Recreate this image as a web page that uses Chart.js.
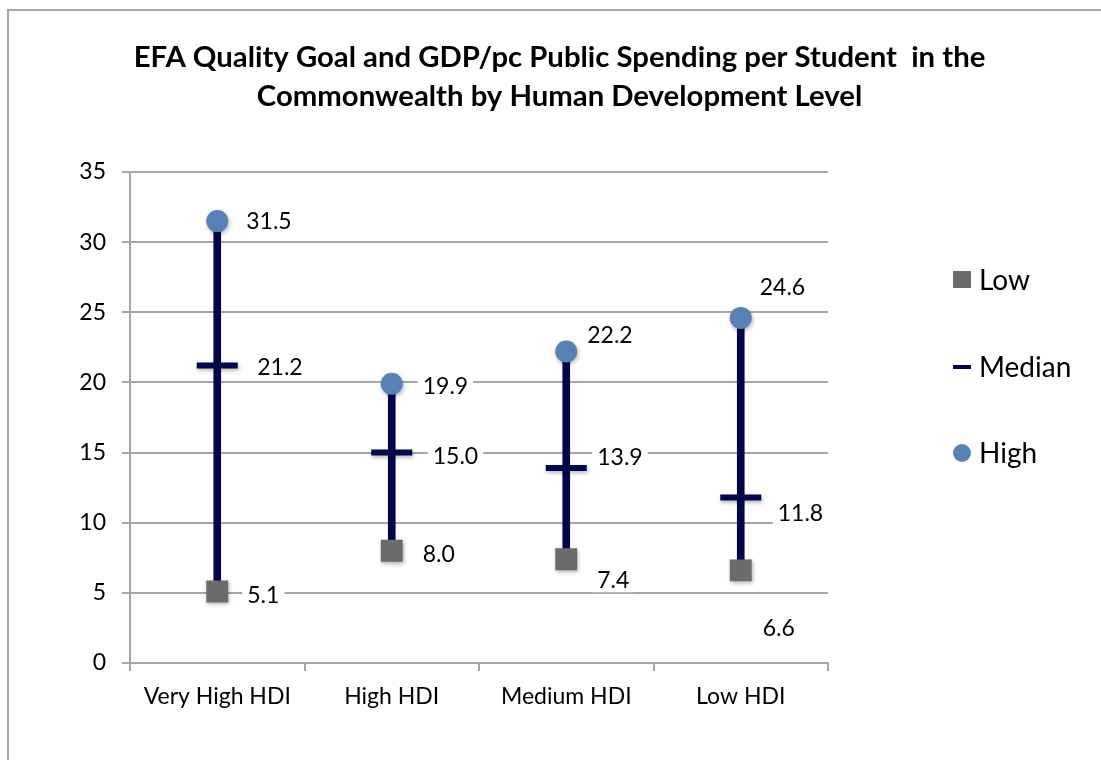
<!DOCTYPE html>
<html>
<head>
<meta charset="utf-8">
<script src="https://cdn.jsdelivr.net/npm/chart.js@4/dist/chart.umd.min.js"></script>
<style>
  html, body { margin: 0; padding: 0; background: #fff; overflow: hidden; }
  #wrap { position: relative; width: 1101px; height: 760px; }
  #frame {
    position: absolute; left: 7px; top: 9px; width: 1200px; height: 900px;
    border-left: 2px solid #a6a6a6; border-top: 2px solid #a6a6a6;
  }
  canvas { position: absolute; left: 0; top: 0; }
</style>
</head>
<body>
<div id="wrap">
  <div id="frame"></div>
  <canvas id="chart" width="1101" height="760"></canvas>
</div>
<script>
// chart data
const categories = ["Very High HDI", "High HDI", "Medium HDI", "Low HDI"];
const lowValues = [5.1, 8.0, 7.4, 6.6];
const medianValues = [21.2, 15.0, 13.9, 11.8];
const highValues = [31.5, 19.9, 22.2, 24.6];
const yTicks = [0, 5, 10, 15, 20, 25, 30, 35];

const titleLines = [
  "EFA Quality Goal and GDP/pc Public Spending per Student  in the",
  "Commonwealth by Human Development Level"
];

const FONT = "Lato, 'Open Sans', sans-serif";
const NAVY = "#03064a";
const GRID = "#a6a6a6";

// label offsets from each point (text left, text middle), in px
const labelOffsets = {
  Low: [[30, 4], [31, 4], [31, 21], [22, 58]],
  Median: [[40, 2], [41, 4], [31, -10], [37, 16]],
  High: [[29, 0], [31, 3], [21, -16], [19, -30]]
};

// white-boxed value labels, Excel style
const valueLabels = {
  id: "valueLabels",
  afterDatasetsDraw(chart) {
    const ctx = chart.ctx;
    ctx.save();
    ctx.font = "23px " + FONT;
    ctx.textBaseline = "middle";
    ctx.textAlign = "left";
    chart.data.datasets.forEach((ds, i) => {
      const offs = labelOffsets[ds.label];
      if (!offs) return;
      chart.getDatasetMeta(i).data.forEach((pt, j) => {
        const txt = ds.data[j].toFixed(1);
        const x = pt.x + offs[j][0];
        const y = pt.y + offs[j][1];
        const w = ctx.measureText(txt).width;
        ctx.fillStyle = "#fff";
        ctx.fillRect(x - 5, y - 13, w + 10, 25);
        ctx.fillStyle = "#000";
        ctx.fillText(txt, x, y);
      });
    });
    ctx.restore();
  }
};

// soft drop shadow under the markers
const markerShadow = {
  id: "markerShadow",
  beforeDatasetDraw(chart, args) {
    if (args.meta.type !== "line") return;
    const ctx = chart.ctx;
    ctx.save();
    ctx.shadowColor = "rgba(0,0,0,0.3)";
    ctx.shadowBlur = 4;
    ctx.shadowOffsetX = 1;
    ctx.shadowOffsetY = 2;
  },
  afterDatasetDraw(chart, args) {
    if (args.meta.type !== "line") return;
    chart.ctx.restore();
  }
};

// legend on the right
const sideLegend = {
  id: "sideLegend",
  afterDraw(chart) {
    const ctx = chart.ctx;
    const area = chart.chartArea;
    const cx = area.right + 134;
    const rows = [108, 195, 281];
    ctx.save();
    ctx.font = "28px " + FONT;
    ctx.textBaseline = "middle";
    ctx.textAlign = "left";
    ["Low", "Median", "High"].forEach((name, k) => {
      const ds = chart.data.datasets.find(d => d.label === name);
      const y = area.top + rows[k];
      if (ds.pointStyle === "rect") {
        ctx.fillStyle = ds.pointBackgroundColor;
        ctx.fillRect(cx - 9, y - 9, 18, 17);
      } else if (ds.pointStyle === "line") {
        ctx.strokeStyle = ds.pointBorderColor;
        ctx.lineWidth = 4;
        ctx.beginPath();
        ctx.moveTo(cx - 9, y);
        ctx.lineTo(cx + 9, y);
        ctx.stroke();
      } else {
        ctx.fillStyle = ds.pointBackgroundColor;
        ctx.beginPath();
        ctx.arc(cx, y, 9, 0, Math.PI * 2);
        ctx.fill();
      }
      ctx.fillStyle = "#000";
      ctx.fillText(name, cx + 17, y + 1);
    });
    ctx.restore();
  }
};

const ctxChart = document.getElementById("chart").getContext("2d");
new Chart(ctxChart, {
  type: "bar",
  data: {
    labels: categories,
    datasets: [
      {
        label: "Range",
        data: lowValues.map((v, i) => [v, highValues[i]]),
        backgroundColor: NAVY,
        barThickness: 7,
        order: 10
      },
      {
        type: "line",
        label: "Low",
        data: lowValues,
        showLine: false,
        pointStyle: "rect",
        pointRadius: 15.5,
        pointBackgroundColor: "#6b6b6b",
        pointBorderColor: "#6b6b6b",
        pointBorderWidth: 0,
        order: 3
      },
      {
        type: "line",
        label: "Median",
        data: medianValues,
        showLine: false,
        pointStyle: "line",
        pointRadius: 20.5,
        pointBorderColor: NAVY,
        pointBackgroundColor: NAVY,
        pointBorderWidth: 6,
        order: 2
      },
      {
        type: "line",
        label: "High",
        data: highValues,
        showLine: false,
        pointStyle: "circle",
        pointRadius: 11,
        pointBackgroundColor: "#5882b6",
        pointBorderColor: "#5882b6",
        pointBorderWidth: 0,
        order: 1
      }
    ]
  },
  options: {
    responsive: false,
    animation: false,
    events: [],
    layout: { padding: { left: 18, right: 0, top: 0, bottom: 0 } },
    plugins: {
      legend: { display: false },
      tooltip: { enabled: false },
      title: {
        display: true,
        text: titleLines,
        color: "#000",
        font: { family: FONT, size: 29.3, weight: "bold", lineHeight: "39px" },
        padding: { top: 38, bottom: 56 }
      }
    },
    scales: {
      x: {
        offset: true,
        grid: {
          offset: true,
          drawOnChartArea: false,
          drawTicks: true,
          tickLength: 8,
          color: GRID,
          lineWidth: 2
        },
        border: { color: GRID, width: 2 },
        ticks: { color: "#000", font: { family: FONT, size: 23 }, padding: 12 },
        afterFit(scale) { scale.height = 97; }
      },
      y: {
        min: 0,
        max: 35,
        afterBuildTicks(scale) { scale.ticks = yTicks.map(v => ({ value: v })); },
        grid: { color: GRID, lineWidth: 2, tickLength: 8 },
        border: { color: GRID, width: 2 },
        ticks: { color: "#000", font: { family: FONT, size: 23 }, padding: 16 },
        afterFit(scale) { scale.width = 112; }
      },
      // empty right-hand axis: keeps room for the legend without shifting the title
      legendRoom: {
        position: "right",
        display: true,
        min: 0,
        max: 1,
        grid: { display: false },
        border: { display: false },
        ticks: { display: false },
        afterFit(scale) { scale.width = 273; }
      }
    }
  },
  plugins: [markerShadow, valueLabels, sideLegend]
});
</script>
</body>
</html>
